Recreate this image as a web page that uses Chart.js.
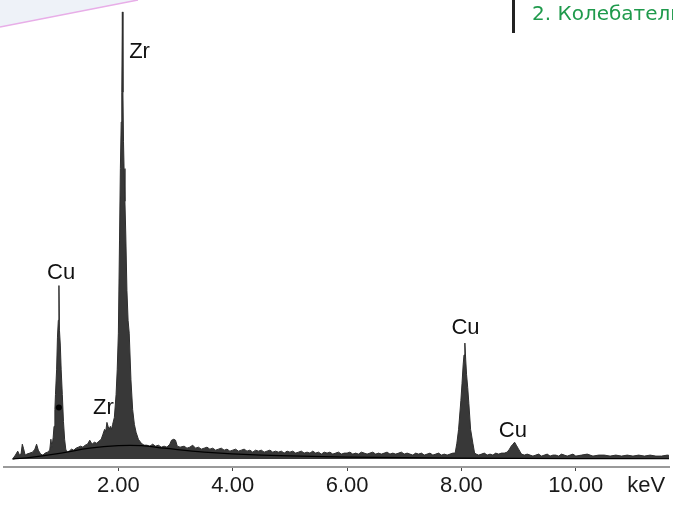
<!DOCTYPE html>
<html>
<head>
<meta charset="utf-8">
<script src="https://cdn.jsdelivr.net/npm/chart.js@4.4.0/dist/chart.umd.min.js"></script>
<style>
html, body { margin: 0; padding: 0; background: #fff; }
canvas { display: block; }
</style>
</head>
<body>
<canvas id="spectrum" width="673" height="505"></canvas>
<script>
// EDX spectrum, energy in keV, counts (arbitrary units)
var energy = [
    0.15,0.20,0.24,0.28,0.30,0.32,0.34,0.37,0.40,0.45,0.50,0.54,0.57,0.60,0.64,0.68,0.72,0.76,0.80,
    0.82,0.84,0.86,0.875,0.89,0.90,0.92,0.935,0.95,0.961,0.97,0.985,1.00,1.02,1.04,1.06,1.08,
    1.10,1.14,1.18,1.22,1.26,1.30,1.34,1.38,1.42,1.46,1.50,1.54,1.58,1.62,1.66,1.70,
    1.73,1.76,1.78,1.80,1.82,1.84,1.86,1.88,1.90,1.93,1.96,1.98,2.00,2.02,2.035,2.05,2.06,2.07,2.08,
    2.09,2.10,2.115,2.13,2.15,2.17,2.19,2.22,2.25,2.28,2.31,2.35,2.40,2.45,
    2.50,2.55,2.60,2.65,2.70,2.75,2.80,2.85,2.90,2.93,2.97,3.00,3.03,3.08,3.15,3.20,3.25,3.30,3.35,
    3.40,3.45,3.50,3.55,3.60,3.65,3.70,3.75,3.80,3.85,3.90,3.95,
    4.00,4.05,4.10,4.15,4.20,4.25,4.30,4.35,4.40,4.45,
    4.50,4.55,4.60,4.65,4.70,4.75,4.80,4.85,4.90,4.95,
    5.00,5.05,5.10,5.15,5.20,5.25,5.30,5.35,5.40,5.45,
    5.50,5.55,5.60,5.65,5.70,5.75,5.80,5.85,5.90,5.95,
    6.00,6.05,6.10,6.15,6.20,6.25,6.30,6.35,6.40,6.45,
    6.50,6.55,6.60,6.65,6.70,6.75,6.80,6.85,6.90,6.95,
    7.00,7.05,7.10,7.15,7.20,7.25,7.30,7.35,7.40,7.45,
    7.50,7.55,7.60,7.65,7.70,7.75,7.80,7.85,
    7.89,7.92,7.95,7.99,8.01,8.03,8.045,8.06,8.075,8.09,8.11,8.13,8.16,8.20,8.23,8.26,
    8.30,8.35,8.40,8.45,8.50,8.55,8.60,8.65,8.70,8.75,8.80,
    8.84,8.87,8.90,8.93,8.96,8.99,9.02,9.05,9.10,
    9.15,9.20,9.25,9.30,9.35,9.40,9.45,9.50,9.55,9.60,9.65,9.70,9.75,9.80,9.85,9.90,9.95,
    10.0,10.1,10.2,10.3,10.4,10.5,10.6,10.7,10.8,10.9,11.0,11.1,11.2,11.3,11.4,11.5,11.6,11.7
];
var counts = [
    0,40,80,30,60,150,110,40,50,60,70,100,150,90,50,40,60,70,90,
    200,120,220,330,500,650,900,1230,1400,1750,1300,1150,900,650,380,200,100,
    70,80,100,90,110,120,130,120,140,150,190,150,170,160,180,200,
    250,300,280,370,330,300,330,300,350,420,650,900,1270,2200,2930,3400,3700,4510,3700,
    3200,2930,2600,2260,1700,1400,1270,800,500,350,270,200,160,140,
    140,130,150,130,140,120,130,120,150,190,200,190,130,120,130,110,120,140,110,
    120,100,110,120,100,110,90,100,110,90,100,80,
    90,100,80,90,100,80,90,70,90,80,
    90,70,80,90,70,80,70,80,60,80,
    70,80,60,70,80,60,70,60,80,60,
    70,50,70,60,70,50,60,70,50,60,
    60,70,50,60,50,70,60,50,60,70,
    50,60,50,60,70,50,60,50,60,70,
    50,60,50,40,60,50,60,40,50,60,
    40,50,60,40,50,40,50,60,
    60,160,300,590,760,950,1050,1170,1000,850,720,560,300,160,60,50,
    40,50,60,40,50,40,60,50,60,60,70,
    100,130,150,170,140,110,80,50,40,
    50,40,30,40,50,30,40,50,30,40,40,30,50,40,30,40,50,
    30,40,50,30,40,40,30,40,30,40,30,40,30,40,30,30,40,30
];

// fitted background under the peaks
var bgKeV    = [0.15, 0.5, 1.0, 1.5, 2.0, 2.4, 2.8, 3.5, 4.5, 6.0, 8.0, 10.0, 11.7];
var bgCounts = [0,    20,  60,  110, 135, 135, 110, 70,  40,  20,  10,  5,    3];

// marker on the Cu L line
var markKeV = [0.96];
var markCounts = [520];

// axis ticks
var tickKeV = [2, 4, 6, 8, 10];
var unitKeV = 11.23;   // where the "keV" unit label sits

// peak labels
var peakNames  = ['Cu', 'Zr', 'Zr', 'Cu', 'Cu'];
var peakKeV    = [1.00, 2.37, 1.74, 8.07, 8.90];
var peakCounts = [1880, 4110, 520, 1320, 280];

function toPoints(xs, ys) {
    var pts = [];
    for (var i = 0; i < xs.length; i++) {
        pts.push({x: xs[i], y: ys[i]});
    }
    return pts;
}

var peakLabelPlugin = {
    id: 'peakLabels',
    afterDatasetsDraw: function (chart) {
        var ctx = chart.ctx;
        var xs = chart.scales.x, ys = chart.scales.y;
        ctx.save();
        ctx.font = '22px "Liberation Sans", Arial, sans-serif';
        ctx.fillStyle = '#111';
        ctx.textAlign = 'center';
        ctx.textBaseline = 'middle';
        for (var i = 0; i < peakNames.length; i++) {
            ctx.fillText(peakNames[i], xs.getPixelForValue(peakKeV[i]), ys.getPixelForValue(peakCounts[i]));
        }
        ctx.restore();
    }
};

// bits of the slide around the figure
var slidePlugin = {
    id: 'slide',
    beforeDraw: function (chart) {
        var ctx = chart.ctx;
        ctx.save();
        ctx.fillStyle = '#eef2f8';
        ctx.beginPath();
        ctx.moveTo(0, 0);
        ctx.lineTo(138, 0);
        ctx.lineTo(0, 27);
        ctx.closePath();
        ctx.fill();
        ctx.strokeStyle = '#e8aee8';
        ctx.lineWidth = 1.5;
        ctx.beginPath();
        ctx.moveTo(138, 0);
        ctx.lineTo(0, 27);
        ctx.stroke();
        ctx.restore();
    },
    afterDraw: function (chart) {
        var ctx = chart.ctx;
        ctx.save();
        ctx.fillStyle = '#222';
        ctx.fillRect(512, 0, 3, 33);
        ctx.fillStyle = '#1f9a4c';
        ctx.font = '20px "DejaVu Sans", sans-serif';
        ctx.textBaseline = 'alphabetic';
        ctx.fillText('2. Колебательные спектры', 532, 20);
        ctx.restore();
    }
};

var chart = new Chart(document.getElementById('spectrum'), {
    type: 'line',
    data: {
        datasets: [
            {
                data: toPoints(markKeV, markCounts),
                showLine: false,
                pointRadius: 3,
                pointBackgroundColor: '#000',
                pointBorderWidth: 0
            },
            {
                data: toPoints(bgKeV, bgCounts),
                borderColor: '#000',
                borderWidth: 1.2,
                pointRadius: 0,
                tension: 0.4,
                fill: false
            },
            {
                data: toPoints(energy, counts),
                borderColor: '#2e2e2e',
                backgroundColor: '#383838',
                borderWidth: 1,
                pointRadius: 0,
                tension: 0,
                fill: 'origin'
            }
        ]
    },
    options: {
        responsive: false,
        animation: false,
        layout: {padding: {left: 2, right: 0, top: 0, bottom: 0}},
        plugins: {legend: {display: false}, tooltip: {enabled: false}},
        scales: {
            x: {
                type: 'linear',
                min: 0,
                max: 11.63,
                afterBuildTicks: function (scale) {
                    scale.ticks = tickKeV.concat([unitKeV]).map(function (v) { return {value: v}; });
                },
                afterFit: function (scale) { scale.height = 38; },
                ticks: {
                    autoSkip: false,
                    maxRotation: 0,
                    padding: 2,
                    color: '#1a1a1a',
                    font: {family: '"Liberation Sans", Arial, sans-serif', size: 22},
                    callback: function (v) { return v === unitKeV ? 'keV' : v.toFixed(2); }
                },
                grid: {
                    drawOnChartArea: false,
                    tickLength: 4,
                    tickWidth: 1,
                    tickColor: function (c) {
                        return (c.tick && c.tick.value === unitKeV) ? 'rgba(0,0,0,0)' : '#444';
                    }
                },
                border: {color: '#9a9a9a', width: 2}
            },
            y: {display: false, min: -80, max: 4590}
        }
    },
    plugins: [slidePlugin, peakLabelPlugin]
});
</script>
</body>
</html>
